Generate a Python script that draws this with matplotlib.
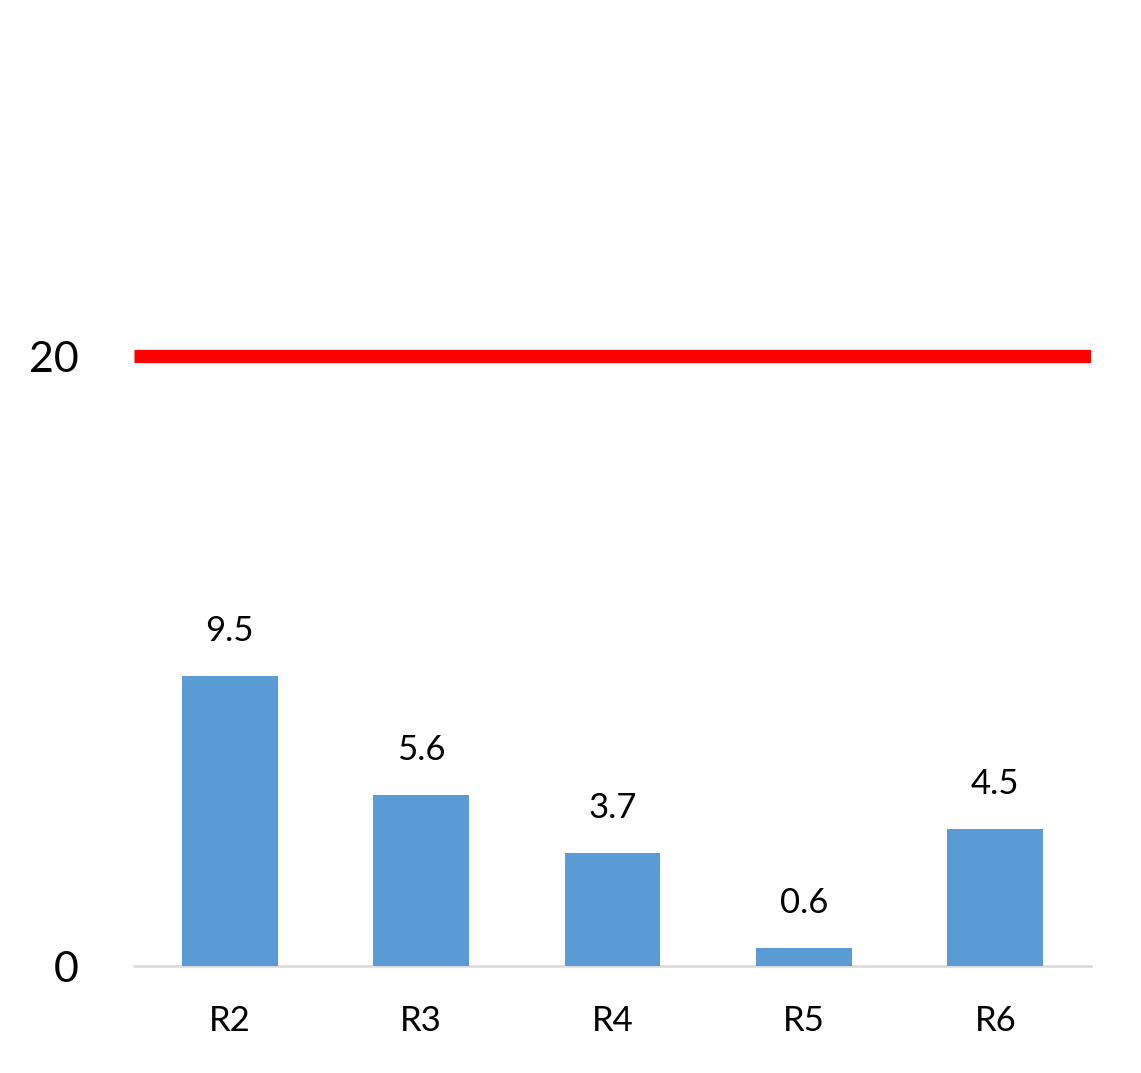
import matplotlib
matplotlib.use('Agg')
import matplotlib.pyplot as plt

categories = ['R2', 'R3', 'R4', 'R5', 'R6']
values = [9.5, 5.6, 3.7, 0.6, 4.5]
value_labels = ['9.5', '5.6', '3.7', '0.6', '4.5']
target = 20
y_ticks = [0, 20]

bar_color = '#5b9bd5'
line_color = '#ff0000'
axis_color = '#d9d9d9'

plt.rcParams['font.family'] = ['Lato', 'DejaVu Sans']

fig = plt.figure(figsize=(11.41, 10.73), dpi=100)
ax = fig.add_axes([134/1141, (1073-966)/1073, (1091-134)/1141, (966-51)/1073])

x = range(len(categories))
ax.bar(x, values, width=0.5, color=bar_color, zorder=2)
ax.axhline(target, color=line_color, lw=9.5, solid_capstyle='butt', zorder=3)

for xi, v, lab in zip(x, values, value_labels):
  ax.annotate(lab, (xi, v), xytext=(0, 21), textcoords='offset points',
              ha='center', va='bottom', fontsize=25, color='black')

ax.set_xlim(-0.5, len(categories) - 0.5)
ax.set_ylim(0, 30)
ax.set_xticks(list(x))
ax.set_xticklabels(categories)
ax.set_yticks(y_ticks)
ax.set_yticklabels([str(t) for t in y_ticks])

for side in ['top', 'right', 'left']:
  ax.spines[side].set_visible(False)
ax.spines['bottom'].set_color(axis_color)
ax.spines['bottom'].set_linewidth(1.8)
ax.spines['bottom'].set_zorder(1)

ax.tick_params(axis='x', length=0, pad=28, labelsize=25)
ax.tick_params(axis='y', length=0, pad=40, labelsize=31)

fig.savefig('out.png', dpi=100)
